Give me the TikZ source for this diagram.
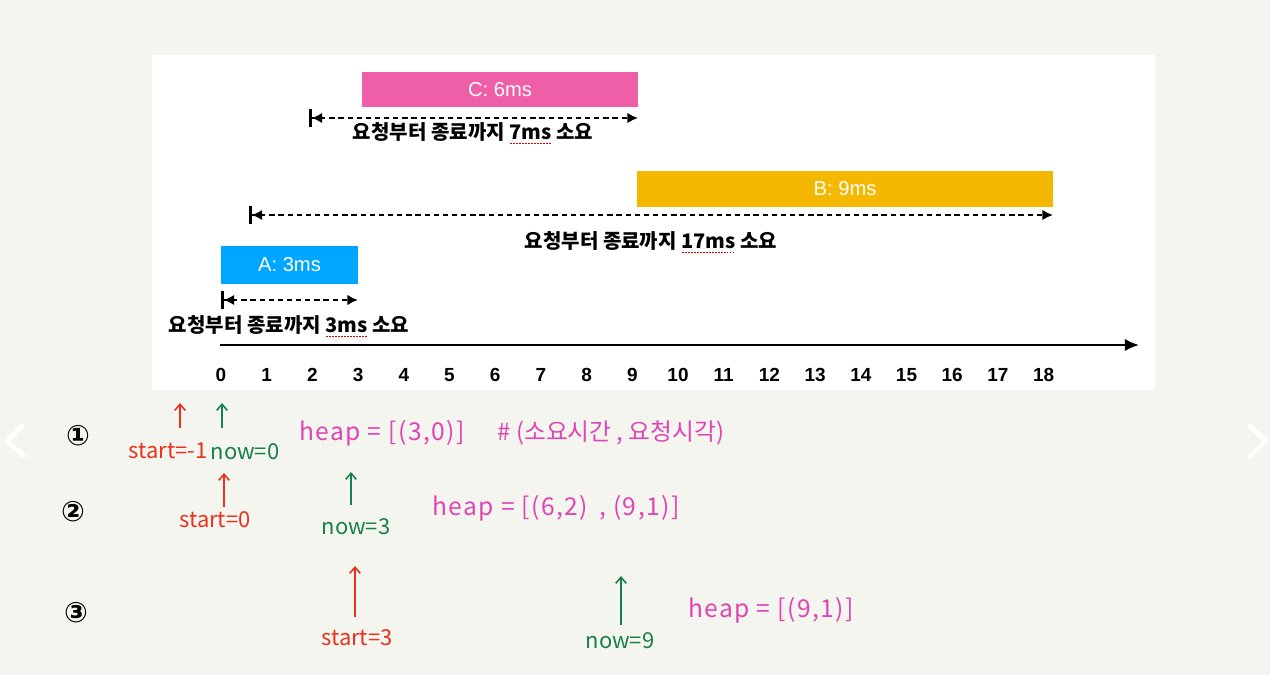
\documentclass[tikz,border=0pt]{standalone}
\usepackage{fontspec}
\setmainfont{Liberation Sans}
\newfontfamily\krfont{Noto Sans CJK KR}
\newfontfamily\handwide{Noto Sans CJK KR}[LetterSpace=6]
\newfontfamily\symfont{DejaVu Sans}
\usetikzlibrary{arrows.meta}
\definecolor{bgc}{HTML}{F5F5F0}
\definecolor{ablue}{HTML}{00A6FF}
\definecolor{bamber}{HTML}{F5B800}
\definecolor{cpink}{HTML}{EE5FA8}
\definecolor{hred}{HTML}{E8321E}
\definecolor{hgreen}{HTML}{17804A}
\definecolor{hpink}{HTML}{E044B4}
\newcommand\sq[1]{\leavevmode\setbox0\hbox{#1}\rlap{\color{red!85!black}\raisebox{-2.8pt}{\hbox to \wd0{\leaders\hbox to 1.7pt{\hss\rule{0.9pt}{0.7pt}\hss}\hfill}}}\box0}
\tikzset{
  box/.style={rectangle, inner sep=0pt, text=white, font=\fontsize{11.5}{13}\selectfont},
  tick/.style={inner sep=0pt, font=\fontsize{10.8}{12}\selectfont\bfseries},
  kr/.style={inner sep=0pt, font=\krfont\bfseries\fontsize{11.4}{13}\selectfont},
  span/.style={line width=1.2pt, dash pattern=on 3pt off 2.2pt, {Bar[width=10pt,line width=1.5pt,sep=0pt]Latex[length=6pt,width=6pt]}-{Latex[length=6pt,width=6pt]}},
  hand/.style={inner sep=0pt, font=\krfont\fontsize{12.5}{15}\selectfont},
  heapt/.style={inner sep=0pt, text=hpink, font=\handwide\fontsize{14}{16}\selectfont},
  note/.style={inner sep=0pt, text=hpink, font=\krfont\fontsize{13.5}{16}\selectfont},
  harrow/.style={line width=0.9pt, -{Straight Barb[length=3.5pt,width=6pt]}},
  circnum/.style={inner sep=0pt, font=\symfont\bfseries\fontsize{16}{18}\selectfont},
}
\begin{document}
\begin{tikzpicture}[x=0.02cm,y=-0.02cm]
\fill[bgc] (0,0) rectangle (1270,675);
\useasboundingbox (0,0) rectangle (1270,675);
\fill[white] (152,55) rectangle (1155,390);
% navigation chevrons
\draw[white, line width=2.4pt, line cap=round, line join=round] (23,425) -- (7,441) -- (24,456);
\draw[white, line width=2.4pt, line cap=round, line join=round] (1249,425) -- (1266,441) -- (1250,456);
% boxes
\node[box, fill=cpink, minimum width=5.52cm, minimum height=0.70cm] (C) at (500,89.5) {C: 6ms};
\node[box, fill=bamber, minimum width=8.32cm, minimum height=0.72cm] (B) at (845,189) {B: 9ms};
\node[box, fill=ablue, minimum width=2.74cm, minimum height=0.76cm] (A) at (289.5,265) {A: 3ms};
% spans
\coordinate (cs) at (309,118); \coordinate (ce) at (638,118);
\draw[span] (cs) -- (ce);
\node[kr] (Cl) at (473,133) {요청부터 종료까지 \sq{7ms}\ 소요};
\coordinate (bs) at (249,215); \coordinate (be) at (1053,215);
\draw[span] (bs) -- (be);
\node[kr] (Bl) at (651,242) {요청부터 종료까지 \sq{17ms}\ 소요};
\coordinate (as) at (221,300); \coordinate (ae) at (358,300);
\draw[span] (as) -- (ae);
\node[kr] (Al) at (289,326) {요청부터 종료까지 \sq{3ms}\ 소요};
% axis
\coordinate (ax0) at (220,345); \coordinate (ax1) at (1139,345);
\draw[line width=1.3pt, -{Latex[length=8pt,width=7pt]}] (ax0) -- (ax1);
\foreach \i in {0,...,18} {
  \node[tick] (t\i) at ({221+45.7*\i},375) {\i};
}
% row 1
\node[circnum] (n1) at (78,436) {①};
\node[hand, text=hred] (s1) at (168,451) {start=-1};
\coordinate (s1a) at (180,428); \coordinate (s1b) at (180,403);
\draw[harrow, hred] (s1a) -- (s1b);
\node[hand, text=hgreen] (w1) at (245,452) {now=0};
\coordinate (w1a) at (222,428); \coordinate (w1b) at (222,403);
\draw[harrow, hgreen] (w1a) -- (w1b);
\node[heapt] (h1) at (382,433) {heap = [(3,0)]};
\node[note] (c1) at (611,433) {\# (소요시간 , 요청시각)};
% row 2
\node[circnum] (n2) at (73,512) {②};
\node[hand, text=hred] (s2) at (215,520) {start=0};
\coordinate (s2a) at (224,507); \coordinate (s2b) at (224,473);
\draw[harrow, hred] (s2a) -- (s2b);
\node[hand, text=hgreen] (w2) at (356,527) {now=3};
\coordinate (w2a) at (351,505); \coordinate (w2b) at (351,472);
\draw[harrow, hgreen] (w2a) -- (w2b);
\node[heapt] (h2) at (556,508) {heap = [(6,2)\, , (9,1)]};
% row 3
\node[circnum] (n3) at (76,613) {③};
\node[hand, text=hred] (s3) at (357,638) {start=3};
\coordinate (s3a) at (355,617); \coordinate (s3b) at (355,566);
\draw[harrow, hred] (s3a) -- (s3b);
\node[hand, text=hgreen] (w3) at (620,641) {now=9};
\coordinate (w3a) at (621,625); \coordinate (w3b) at (621,576);
\draw[harrow, hgreen] (w3a) -- (w3b);
\node[heapt] (h3) at (771,610) {heap = [(9,1)]};
\end{tikzpicture}
\end{document}
